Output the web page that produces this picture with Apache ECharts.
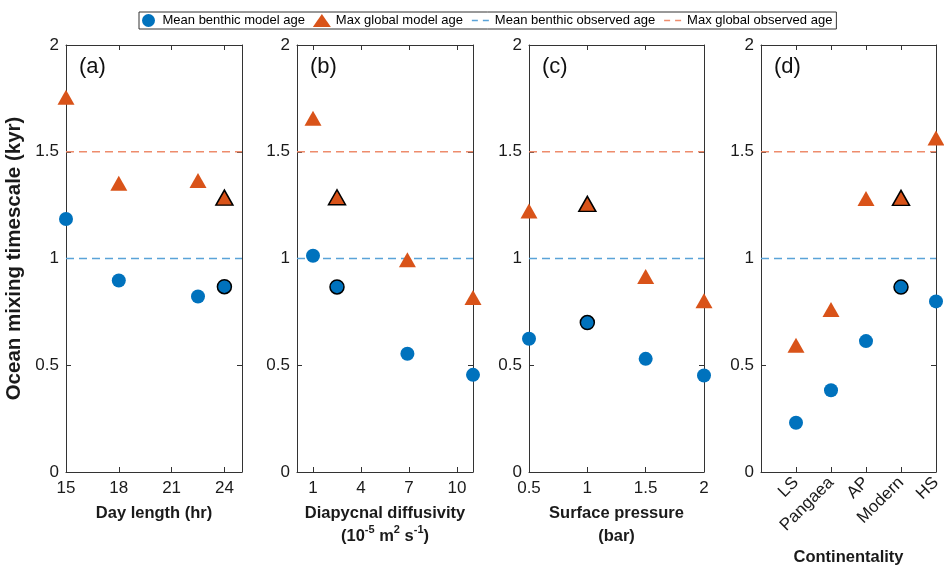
<!DOCTYPE html>
<html><head><meta charset="utf-8">
<script src="https://cdn.jsdelivr.net/npm/echarts@6/dist/echarts.min.js"></script>
<style>html,body{margin:0;padding:0;background:#fff}#c{width:944px;height:565px}</style>
</head><body><div id="c"></div>
<script>
// ---- data ----
const dayLength = [15, 18, 22.5, 24];
const dayBenthic = [1.185, 0.897, 0.822, 0.868];
const dayGlobal = [1.755, 1.353, 1.365, 1.285];
const dayTicks = [15, 18, 21, 24];

const diffusivity = [1, 2.5, 6.9, 11];
const diffBenthic = [1.013, 0.867, 0.554, 0.455];
const diffGlobal = [1.657, 1.287, 0.994, 0.817];
const diffTicks = [1, 4, 7, 10];

const pressure = [0.5, 1, 1.5, 2];
const presBenthic = [0.624, 0.700, 0.530, 0.452];
const presGlobal = [1.223, 1.256, 0.916, 0.802];
const presTicks = [0.5, 1, 1.5, 2];

const continents = ['LS', 'Pangaea', 'AP', 'Modern', 'HS'];
const contPos = [1, 2, 3, 4, 5];
const contBenthic = [0.231, 0.383, 0.613, 0.866, 0.799];
const contGlobal = [0.594, 0.761, 1.281, 1.284, 1.564];

const referenceIndex = [3, 1, 1, 3];
const benthicObserved = 1.0;
const globalObserved = 1.5;
const seriesNames = ['Mean benthic model age', 'Max global model age', 'Mean benthic observed age', 'Max global observed age'];
const panelLabels = ['(a)', '(b)', '(c)', '(d)'];

// ---- layout / style ----
const FONT = '"Liberation Sans", Arial, Helvetica, sans-serif';
const BLUE = '#0072BD', ORANGE = '#D95319';
const BLUE_L = '#5AA3D8', ORANGE_L = '#EE8C6C';
const AX = '#333333';
const grids = [
  {left: 66, width: 176, top: 45, height: 427},
  {left: 297, width: 176, top: 45, height: 427},
  {left: 529, width: 175, top: 45, height: 427},
  {left: 761, width: 175, top: 45, height: 427}
];
const panels = [
  {x: dayLength, b: dayBenthic, g: dayGlobal, min: 15, max: 25, ticks: dayTicks, fmt: v => String(v),
   name: 'Day length (hr)', gap: 20},
  {x: diffusivity, b: diffBenthic, g: diffGlobal, min: 0, max: 11, ticks: diffTicks, fmt: v => String(v),
   name: 'Diapycnal diffusivity\n(10{sup|-5} m{sup|2} s{sup|-1})', gap: 20},
  {x: pressure, b: presBenthic, g: presGlobal, min: 0.5, max: 2, ticks: presTicks, fmt: v => String(v),
   name: 'Surface pressure\n(bar)', gap: 20},
  {x: contPos, b: contBenthic, g: contGlobal, min: 0, max: 5, ticks: contPos,
   fmt: v => continents[Math.round(v) - 1] || '', name: 'Continentality', gap: 74, rotate: 45}
];

const xAxes = [], yAxes = [], series = [], graphics = [];
panels.forEach((p, i) => {
  xAxes.push({
    type: 'value', gridIndex: i, min: p.min, max: p.max, position: 'bottom',
    axisLine: {show: true, onZero: false, lineStyle: {color: AX, width: 1}},
    axisTick: {show: true, inside: true, length: 5, customValues: p.ticks, lineStyle: {color: AX}},
    axisLabel: {show: true, customValues: p.ticks, formatter: p.fmt, fontSize: 17, color: '#1a1a1a',
      fontFamily: FONT, margin: 8, rotate: p.rotate || 0},
    splitLine: {show: false},
    name: p.name, nameLocation: 'middle', nameGap: p.gap,
    nameTextStyle: {fontSize: 16.5, fontWeight: 'bold', color: '#1a1a1a', fontFamily: FONT, lineHeight: 23,
      rich: {sup: {fontSize: 11, fontWeight: 'bold', verticalAlign: 'top', lineHeight: 14, color: '#1a1a1a', fontFamily: FONT}}}
  });
  yAxes.push({
    type: 'value', gridIndex: i, min: 0, max: 2, interval: 0.5, position: 'left',
    axisLine: {show: true, onZero: false, lineStyle: {color: AX, width: 1}},
    axisTick: {show: true, inside: true, length: 5, lineStyle: {color: AX}},
    axisLabel: {show: true, formatter: v => String(v), fontSize: 17, color: '#1a1a1a', fontFamily: FONT, margin: 7},
    splitLine: {show: false},
    name: i === 0 ? 'Ocean mixing timescale (kyr)' : '', nameLocation: 'middle', nameGap: 41,
    nameTextStyle: {fontSize: 20.5, fontWeight: 'bold', color: '#1a1a1a', fontFamily: FONT}
  });
  graphics.push({type: 'text', left: grids[i].left + 13, top: 56,
    style: {text: panelLabels[i], fontSize: 22, fill: '#111', fontFamily: FONT}});
});
// mirrored top and right axes (ticks only)
panels.forEach((p, i) => {
  xAxes.push({
    type: 'value', gridIndex: i, min: p.min, max: p.max, position: 'top',
    axisLine: {show: true, onZero: false, lineStyle: {color: AX, width: 1}},
    axisTick: {show: true, inside: true, length: 5, customValues: p.ticks, lineStyle: {color: AX}},
    axisLabel: {show: false}, splitLine: {show: false}
  });
  yAxes.push({
    type: 'value', gridIndex: i, min: 0, max: 2, interval: 0.5, position: 'right',
    axisLine: {show: true, onZero: false, lineStyle: {color: AX, width: 1}},
    axisTick: {show: true, inside: true, length: 5, lineStyle: {color: AX}},
    axisLabel: {show: false}, splitLine: {show: false}
  });
});

panels.forEach((p, i) => {
  const ref = referenceIndex[i];
  series.push({
    name: seriesNames[2], type: 'line', xAxisIndex: i, yAxisIndex: i, symbol: 'none', silent: true, z: 1,
    data: [[p.min, benthicObserved], [p.max, benthicObserved]],
    lineStyle: {color: BLUE_L, width: 1.6, type: [8, 5]}, itemStyle: {color: BLUE_L}
  });
  series.push({
    name: seriesNames[3], type: 'line', xAxisIndex: i, yAxisIndex: i, symbol: 'none', silent: true, z: 1,
    data: [[p.min, globalObserved], [p.max, globalObserved]],
    lineStyle: {color: ORANGE_L, width: 1.6, type: [8, 5]}, itemStyle: {color: ORANGE_L}
  });
  series.push({
    name: seriesNames[0], type: 'scatter', xAxisIndex: i, yAxisIndex: i, symbol: 'circle', symbolSize: 14,
    clip: false, z: 3, itemStyle: {color: BLUE, opacity: 1},
    data: p.x.map((xv, k) => k === ref
      ? {value: [xv, p.b[k]], itemStyle: {borderColor: '#000', borderWidth: 1.5}}
      : {value: [xv, p.b[k]]})
  });
  series.push({
    name: seriesNames[1], type: 'scatter', xAxisIndex: i, yAxisIndex: i, symbol: 'triangle', symbolSize: [17, 15],
    clip: false, z: 3, itemStyle: {color: ORANGE, opacity: 1},
    data: p.x.map((xv, k) => k === ref
      ? {value: [xv, p.g[k]], itemStyle: {borderColor: '#000', borderWidth: 1.5}}
      : {value: [xv, p.g[k]]})
  });
});

const hiddenSymbol = {color: 'rgba(0,0,0,0)', borderColor: 'rgba(0,0,0,0)', borderWidth: 0, opacity: 0};
const chart = echarts.init(document.getElementById('c'), null, {renderer: 'canvas'});
chart.setOption({
  animation: false,
  backgroundColor: '#fff',
  grid: grids.map(g => Object.assign({containLabel: false, outerBoundsMode: 'none'}, g)),
  legend: {
    data: [
      {name: seriesNames[0]},
      {name: seriesNames[1]},
      {name: seriesNames[2], itemStyle: hiddenSymbol, lineStyle: {color: BLUE_L, width: 1.6, type: [6, 5]}},
      {name: seriesNames[3], itemStyle: hiddenSymbol, lineStyle: {color: ORANGE_L, width: 1.6, type: [6, 5]}}
    ],
    left: 139, top: 12, orient: 'horizontal',
    itemWidth: 18, itemHeight: 13, itemGap: 8,
    padding: [2, 4, 2, 3], borderColor: '#333', borderWidth: 1, backgroundColor: '#fff',
    textStyle: {fontSize: 13, color: '#000', fontFamily: FONT}, selectedMode: false
  },
  xAxis: xAxes, yAxis: yAxes, series: series, graphic: graphics
});
</script></body></html>
